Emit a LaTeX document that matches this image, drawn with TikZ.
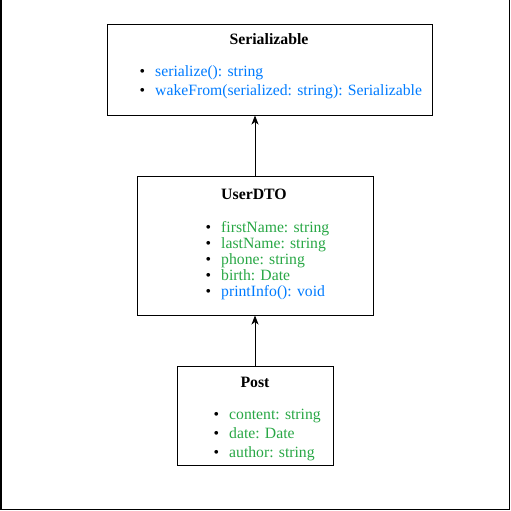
\documentclass[tikz,border=0pt]{standalone}
\usepackage{fontspec}
\setmainfont{Liberation Serif}
\usepackage{xcolor}
\usetikzlibrary{arrows.meta,positioning}
\definecolor{methodblue}{RGB}{0,123,255}
\definecolor{fieldgreen}{RGB}{40,167,69}
\tikzset{
      classbox/.style  = {draw, black, line width=1pt, inner sep=0pt},
      classname/.style = {anchor=base, inner sep=0pt, font=\fontsize{15.8}{18}\selectfont\bfseries},
      member/.style    = {anchor=base west, inner sep=0pt, font=\fontsize{15.7}{18}\selectfont},
      field/.style     = {member, text=fieldgreen},
      method/.style    = {member, text=methodblue},
      inherits/.style  = {black, line width=0.8pt, -{Stealth[length=9pt,width=7pt,inset=2.5pt]}},
    }
\newcommand{\itm}[1]{\makebox[15.5pt][l]{\color{black}\textbullet}#1}

\begin{document}
\begin{tikzpicture}[x=1pt, y=-1pt]
    \useasboundingbox (0,0) rectangle (511,511);
    \draw[line width=1.5pt] (0.75,0) -- (0.75,509.5) -- (509.5,509.5) -- (509.5,0);

    \node [classbox, minimum width=325pt, minimum height=90pt] (ser) at (269.5,70) {};
    \node [classbox, minimum width=236pt, minimum height=139pt] (dto) at (255,245.5) {};
    \node [classbox, minimum width=156pt, minimum height=99pt] (post) at (255,415.5) {};

    \node [classname] (sername) at (269,45) {Serializable};
    \node [method, xshift=-15.5pt] (ser1) at (155,76) {\itm{serialize(): string}};
    \node [method, xshift=-15.5pt] (ser2) at (155,95) {\itm{wakeFrom(serialized: string): Serializable}};

    \node [classname] (dtoname) at (254,199) {UserDTO};
    \node [field, xshift=-15.5pt] (dto1) at (221,232) {\itm{firstName: string}};
    \node [field, xshift=-15.5pt] (dto2) at (221,248) {\itm{lastName: string}};
    \node [field, xshift=-15.5pt] (dto3) at (221,264) {\itm{phone: string}};
    \node [field, xshift=-15.5pt] (dto4) at (221,280) {\itm{birth: Date}};
    \node [method, xshift=-15.5pt] (dto5) at (221,296) {\itm{printInfo(): void}};

    \node [classname] (postname) at (255,387) {Post};
    \node [field, xshift=-15.5pt] (post1) at (229,419) {\itm{content: string}};
    \node [field, xshift=-15.5pt] (post2) at (229,438) {\itm{date: Date}};
    \node [field, xshift=-15.5pt] (post3) at (229,457) {\itm{author: string}};

    \path (post) edge[inherits] (dto);
    \draw[inherits] (dto) -- (dto |- ser.south);
\end{tikzpicture}
\end{document}
